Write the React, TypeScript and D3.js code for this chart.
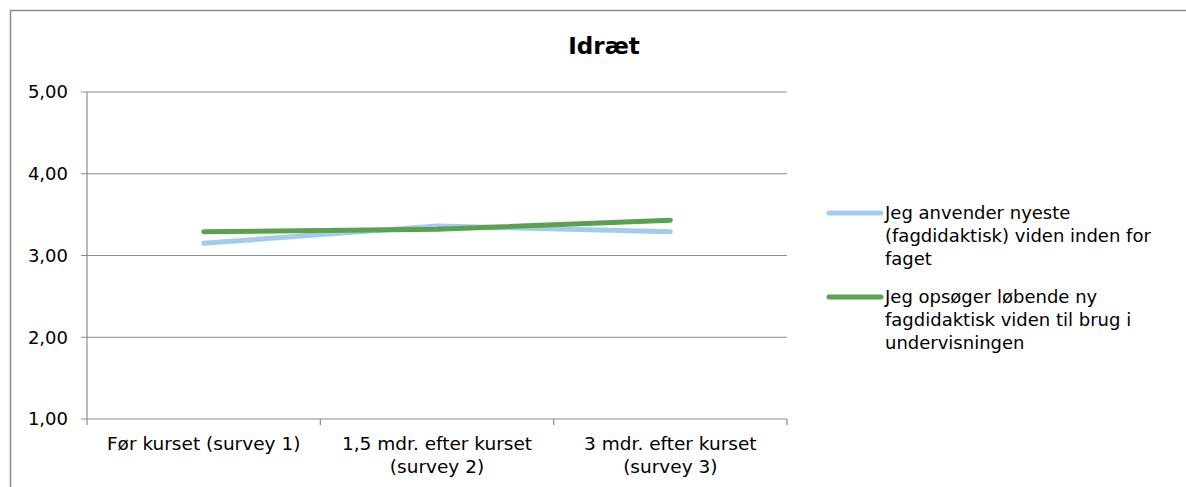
import React from "react";
import * as d3 from "d3";

const categories = ["Før kurset (survey 1)", "1,5 mdr. efter kurset\n(survey 2)", "3 mdr. efter kurset\n(survey 3)"];
const seriesNames = [
  ["Jeg anvender nyeste", "(fagdidaktisk) viden inden for", "faget"],
  ["Jeg opsøger løbende ny", "fagdidaktisk viden til brug i", "undervisningen"],
];
const anvenderValues = [3.15, 3.36, 3.29];
const opsoegerValues = [3.29, 3.32, 3.43];
const yTicks = [1, 2, 3, 4, 5];
const colors = ["#A3CBEE", "#5AA24F"];

const W = 1186;
const H = 487;
const plot = { left: 87, right: 787, top: 92, bottom: 419 };
const font = "'DejaVu Sans', Verdana, sans-serif";
const axisColor = "#8C8C8C";

export default function App() {
  const x = d3.scaleBand<string>().domain(categories).range([plot.left, plot.right]);
  const y = d3.scaleLinear().domain([1, 5]).range([plot.bottom, plot.top]);
  const line = d3
    .line<number>()
    .x((_, i) => (x(categories[i]) as number) + x.bandwidth() / 2)
    .y((d) => y(d));
  const series = [anvenderValues, opsoegerValues];
  const fmt = (v: number) => v.toFixed(2).replace(".", ",");
  const boundaries = [...categories.map((c) => x(c) as number), plot.right];

  return (
    <svg width={W} height={H} style={{ position: "absolute", left: 0, top: 0, background: "#fff" }}>
      <rect x={10.5} y={10.5} width={W + 20} height={H + 20} fill="#fff" stroke={axisColor} strokeWidth={1.5} />
      <text x={604} y={54} textAnchor="middle" fontFamily={font} fontWeight="bold" fontSize={23}>
        Idræt
      </text>
      {yTicks.map((t) => (
        <g key={t}>
          <line x1={plot.left - 6} x2={plot.right} y1={y(t)} y2={y(t)} stroke={axisColor} strokeWidth={1.2} />
          <text x={68} y={y(t)} dy="0.35em" textAnchor="end" fontFamily={font} fontSize={18}>
            {fmt(t)}
          </text>
        </g>
      ))}
      <line x1={plot.left} x2={plot.left} y1={plot.top} y2={plot.bottom} stroke={axisColor} strokeWidth={1.2} />
      {boundaries.map((b, i) => (
        <line key={i} x1={b} x2={b} y1={plot.bottom} y2={plot.bottom + 6} stroke={axisColor} strokeWidth={1.2} />
      ))}
      {categories.map((c) => {
        const lines = c.split("\n");
        const cx = (x(c) as number) + x.bandwidth() / 2;
        return (
          <text key={c} x={cx} y={450} textAnchor="middle" fontFamily={font} fontSize={18.5}>
            {lines.map((l, i) => (
              <tspan key={i} x={cx} dy={i === 0 ? 0 : 23}>
                {l}
              </tspan>
            ))}
          </text>
        );
      })}
      {series.map((s, i) => (
        <path key={i} d={line(s) as string} fill="none" stroke={colors[i]} strokeWidth={5} strokeLinecap="round" strokeLinejoin="round" />
      ))}
      {seriesNames.map((names, i) => {
        const ly = 213 + i * 84;
        return (
          <g key={i}>
            <line x1={829} x2={881} y1={ly} y2={ly} stroke={colors[i]} strokeWidth={5} strokeLinecap="round" />
            <text x={885} y={ly} fontFamily={font} fontSize={18}>
              {names.map((n, j) => (
                <tspan key={j} x={885} dy={j === 0 ? "0.35em" : 23}>
                  {n}
                </tspan>
              ))}
            </text>
          </g>
        );
      })}
    </svg>
  );
}
